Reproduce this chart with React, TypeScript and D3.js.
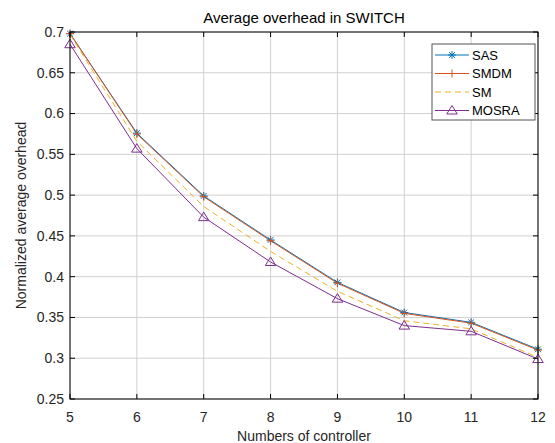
import React from 'react'
import * as d3 from 'd3'

const controllers = [5, 6, 7, 8, 9, 10, 11, 12]
const sas = [0.698, 0.576, 0.499, 0.445, 0.393, 0.356, 0.344, 0.311]
const smdm = [0.698, 0.575, 0.498, 0.444, 0.392, 0.355, 0.343, 0.310]
const sm = [0.697, 0.566, 0.486, 0.431, 0.382, 0.346, 0.336, 0.301]
const mosra = [0.685, 0.557, 0.473, 0.418, 0.373, 0.340, 0.333, 0.299]
const yTicks = [0.25, 0.3, 0.35, 0.4, 0.45, 0.5, 0.55, 0.6, 0.65, 0.7]
const seriesNames = ['SAS', 'SMDM', 'SM', 'MOSRA']

const font = '"Liberation Sans", Arial, Helvetica, sans-serif'
const colors: Record<string, string> = {
  SAS: '#0072BD',
  SMDM: '#D95319',
  SM: '#EDB120',
  MOSRA: '#7E2F8E',
}

const margin = { left: 70, right: 538, top: 32, bottom: 399 }

const x = d3.scaleLinear().domain([5, 12]).range([margin.left, margin.right])
const y = d3.scaleLinear().domain([0.25, 0.7]).range([margin.bottom, margin.top])

const Marker = ({ name, cx, cy }: { name: string; cx: number; cy: number }) => {
  const c = colors[name]
  if (name === 'SAS') {
    const r = 4
    const d = r * 0.72
    return (
      <g stroke={c} strokeWidth={1}>
        <line x1={cx - r} y1={cy} x2={cx + r} y2={cy} />
        <line x1={cx} y1={cy - r} x2={cx} y2={cy + r} />
        <line x1={cx - d} y1={cy - d} x2={cx + d} y2={cy + d} />
        <line x1={cx - d} y1={cy + d} x2={cx + d} y2={cy - d} />
      </g>
    )
  }
  if (name === 'SMDM') {
    const r = 4
    return (
      <g stroke={c} strokeWidth={1}>
        <line x1={cx - r} y1={cy} x2={cx + r} y2={cy} />
        <line x1={cx} y1={cy - r} x2={cx} y2={cy + r} />
      </g>
    )
  }
  if (name === 'MOSRA') {
    const r = 5
    const pts = [
      [cx, cy - r],
      [cx + r * 1.05, cy + r * 0.7],
      [cx - r * 1.05, cy + r * 0.7],
    ]
    return <polygon points={pts.map(p => p.join(',')).join(' ')} fill="none" stroke={c} strokeWidth={1} />
  }
  return null
}

export default function App() {
  const data: Record<string, number[]> = { SAS: sas, SMDM: smdm, SM: sm, MOSRA: mosra }
  const line = d3
    .line<number>()
    .x((_, i) => x(controllers[i]))
    .y(d => y(d))

  const legendX = 432
  const legendY = 44
  const rowGap = 18.5

  return (
    <svg width={555} height={443} style={{ position: 'absolute', left: 0, top: 0 }} fontFamily={font}>
      <rect x={0} y={0} width={555} height={443} fill="#ffffff" />
      {/* grid */}
      {controllers.map(c => (
        <line key={'gx' + c} x1={x(c)} x2={x(c)} y1={margin.top} y2={margin.bottom} stroke="#d0d0d0" strokeWidth={1} />
      ))}
      {yTicks.map(t => (
        <line key={'gy' + t} x1={margin.left} x2={margin.right} y1={y(t)} y2={y(t)} stroke="#d0d0d0" strokeWidth={1} />
      ))}

      {/* series */}
      {seriesNames.map(name => (
        <path
          key={name}
          d={line(data[name]) || ''}
          fill="none"
          stroke={colors[name]}
          strokeWidth={1}
          strokeDasharray={name === 'SM' ? '6,4' : undefined}
        />
      ))}
      {seriesNames.map(name =>
        data[name].map((v, i) => <Marker key={name + i} name={name} cx={x(controllers[i])} cy={y(v)} />)
      )}

      {/* axes box */}
      <rect
        x={margin.left}
        y={margin.top}
        width={margin.right - margin.left}
        height={margin.bottom - margin.top}
        fill="none"
        stroke="#000"
        strokeWidth={1}
      />
      {controllers.map(c => (
        <g key={'tx' + c}>
          <line x1={x(c)} x2={x(c)} y1={margin.bottom} y2={margin.bottom - 5} stroke="#000" />
          <line x1={x(c)} x2={x(c)} y1={margin.top} y2={margin.top + 5} stroke="#000" />
          <text x={x(c)} y={422} textAnchor="middle" fontSize={14} fill="#262626">
            {c}
          </text>
        </g>
      ))}
      {yTicks.map(t => (
        <g key={'ty' + t}>
          <line x1={margin.left} x2={margin.left + 5} y1={y(t)} y2={y(t)} stroke="#000" />
          <line x1={margin.right} x2={margin.right - 5} y1={y(t)} y2={y(t)} stroke="#000" />
          <text x={64} y={y(t)} dy="0.35em" textAnchor="end" fontSize={14} fill="#262626">
            {d3.format('')(t)}
          </text>
        </g>
      ))}

      {/* labels */}
      <text x={(margin.left + margin.right) / 2} y={23} textAnchor="middle" fontSize={15} fill="#000">
        Average overhead in SWITCH
      </text>
      <text x={(margin.left + margin.right) / 2} y={441} textAnchor="middle" fontSize={14} fill="#262626">
        Numbers of controller
      </text>
      <text
        transform={`translate(26,${(margin.top + margin.bottom) / 2}) rotate(-90)`}
        textAnchor="middle"
        fontSize={14}
        fill="#262626"
      >
        Normalized average overhead
      </text>

      {/* legend */}
      <rect x={legendX} y={legendY} width={103} height={76} fill="#fff" stroke="#555" strokeWidth={1} />
      {seriesNames.map((name, i) => {
        const cy = legendY + 11 + i * rowGap
        return (
          <g key={'lg' + name}>
            <line
              x1={legendX + 3}
              x2={legendX + 37}
              y1={cy}
              y2={cy}
              stroke={colors[name]}
              strokeWidth={1}
              strokeDasharray={name === 'SM' ? '6,4' : undefined}
            />
            <Marker name={name} cx={legendX + 20} cy={cy} />
            <text x={legendX + 40} y={cy} dy="0.35em" fontSize={13} fill="#000">
              {name}
            </text>
          </g>
        )
      })}
    </svg>
  )
}
